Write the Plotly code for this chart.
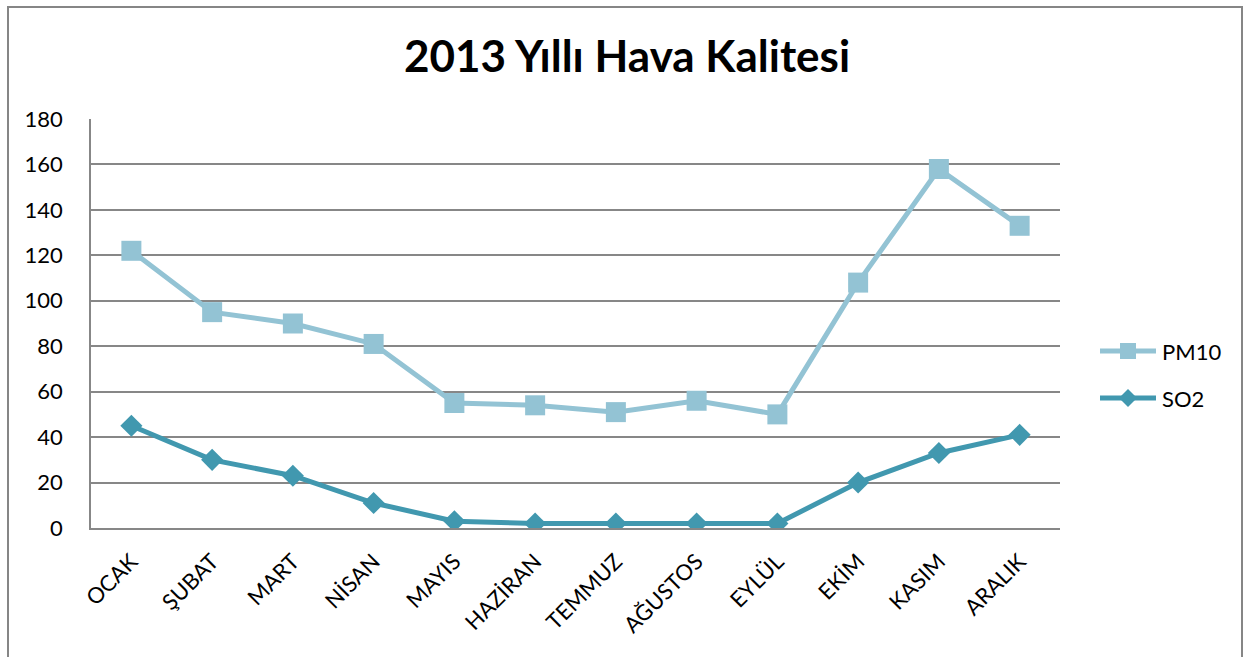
import plotly.graph_objects as go

months = ["OCAK", "ŞUBAT", "MART", "NİSAN", "MAYIS", "HAZİRAN", "TEMMUZ",
          "AĞUSTOS", "EYLÜL", "EKİM", "KASIM", "ARALIK"]
pm10 = [122, 95, 90, 81, 55, 54, 51, 56, 50, 108, 158, 133]
so2 = [45, 30, 23, 11, 3, 2, 2, 2, 2, 20, 33, 41]
y_ticks = [0, 20, 40, 60, 80, 100, 120, 140, 160, 180]

W, H = 1245, 657
ML, MR, MT, MB = 91, 185, 119, 129
FONT = "Lato, 'Open Sans', sans-serif"
GRID = "#878787"
C_PM10 = "#93C3D4"
C_SO2 = "#4198AF"

pw = W - ML - MR
ph = H - MT - MB


def px(x):
    """Pixel column -> paper x."""
    return (x - ML) / pw


def py(y):
    """Pixel row -> paper y."""
    return 1 - (y - MT) / ph


fig = go.Figure()
fig.add_trace(go.Scatter(
    x=months, y=pm10, name="PM10", mode="lines+markers",
    line=dict(color=C_PM10, width=5),
    marker=dict(symbol="square", size=20, color=C_PM10),
))
fig.add_trace(go.Scatter(
    x=months, y=so2, name="SO2", mode="lines+markers",
    line=dict(color=C_SO2, width=5),
    marker=dict(symbol="diamond", size=17, color=C_SO2),
))

shapes = []
annotations = []
# outer chart frame
shapes.append(dict(type="rect", xref="paper", yref="paper",
                   x0=px(8), x1=px(1242), y0=py(H + 5), y1=py(7),
                   line=dict(color="#868686", width=2), layer="below"))

# legend keys: line with the series marker in the middle
legend_items = [("PM10", C_PM10, "square", 351), ("SO2", C_SO2, "diamond", 398)]
for name, color, sym, row in legend_items:
    shapes.append(dict(type="line", xref="paper", yref="paper",
                       x0=px(1100), x1=px(1156), y0=py(row), y1=py(row),
                       line=dict(color=color, width=5)))
    cx = 1128
    if sym == "square":
        shapes.append(dict(type="rect", xref="paper", yref="paper",
                           x0=px(cx - 8), x1=px(cx + 8), y0=py(row + 8), y1=py(row - 8),
                           fillcolor=color, line=dict(width=0)))
    else:
        d = 9
        path = (f"M {px(cx - d)} {py(row)} L {px(cx)} {py(row - d)} "
                f"L {px(cx + d)} {py(row)} L {px(cx)} {py(row + d)} Z")
        shapes.append(dict(type="path", xref="paper", yref="paper", path=path,
                           fillcolor=color, line=dict(width=0)))
    annotations.append(dict(text=name, xref="paper", yref="paper",
                            x=px(1160), y=py(row), xanchor="left", yanchor="middle",
                            showarrow=False, font=dict(family=FONT, size=22, color="black")))

fig.update_layout(
    width=W, height=H,
    margin=dict(l=ML, r=MR, t=MT, b=MB),
    paper_bgcolor="white", plot_bgcolor="white",
    font=dict(family=FONT, color="black", size=22),
    title=dict(text="<b>2013 Yıllı Hava Kalitesi</b>", x=(627 / W), xanchor="center",
               y=1 - 57 / H, yanchor="middle",
               font=dict(family=FONT, size=44, color="black")),
    showlegend=False,
    shapes=shapes,
    annotations=annotations,
)
fig.update_xaxes(
    type="category", range=[-0.5, 11.5], tickangle=-45,
    showgrid=False, showline=True, linecolor=GRID, linewidth=2,
    ticks="", ticklabelstandoff=10, tickfont=dict(family=FONT, size=22),
)
fig.update_yaxes(
    range=[0, 180], tickvals=y_ticks, showgrid=True, gridcolor=GRID, gridwidth=1.5,
    showline=True, linecolor=GRID, linewidth=1.5, zeroline=False,
    ticks="", ticklabelstandoff=22, tickfont=dict(family=FONT, size=22),
)

fig.write_html("out.html")
